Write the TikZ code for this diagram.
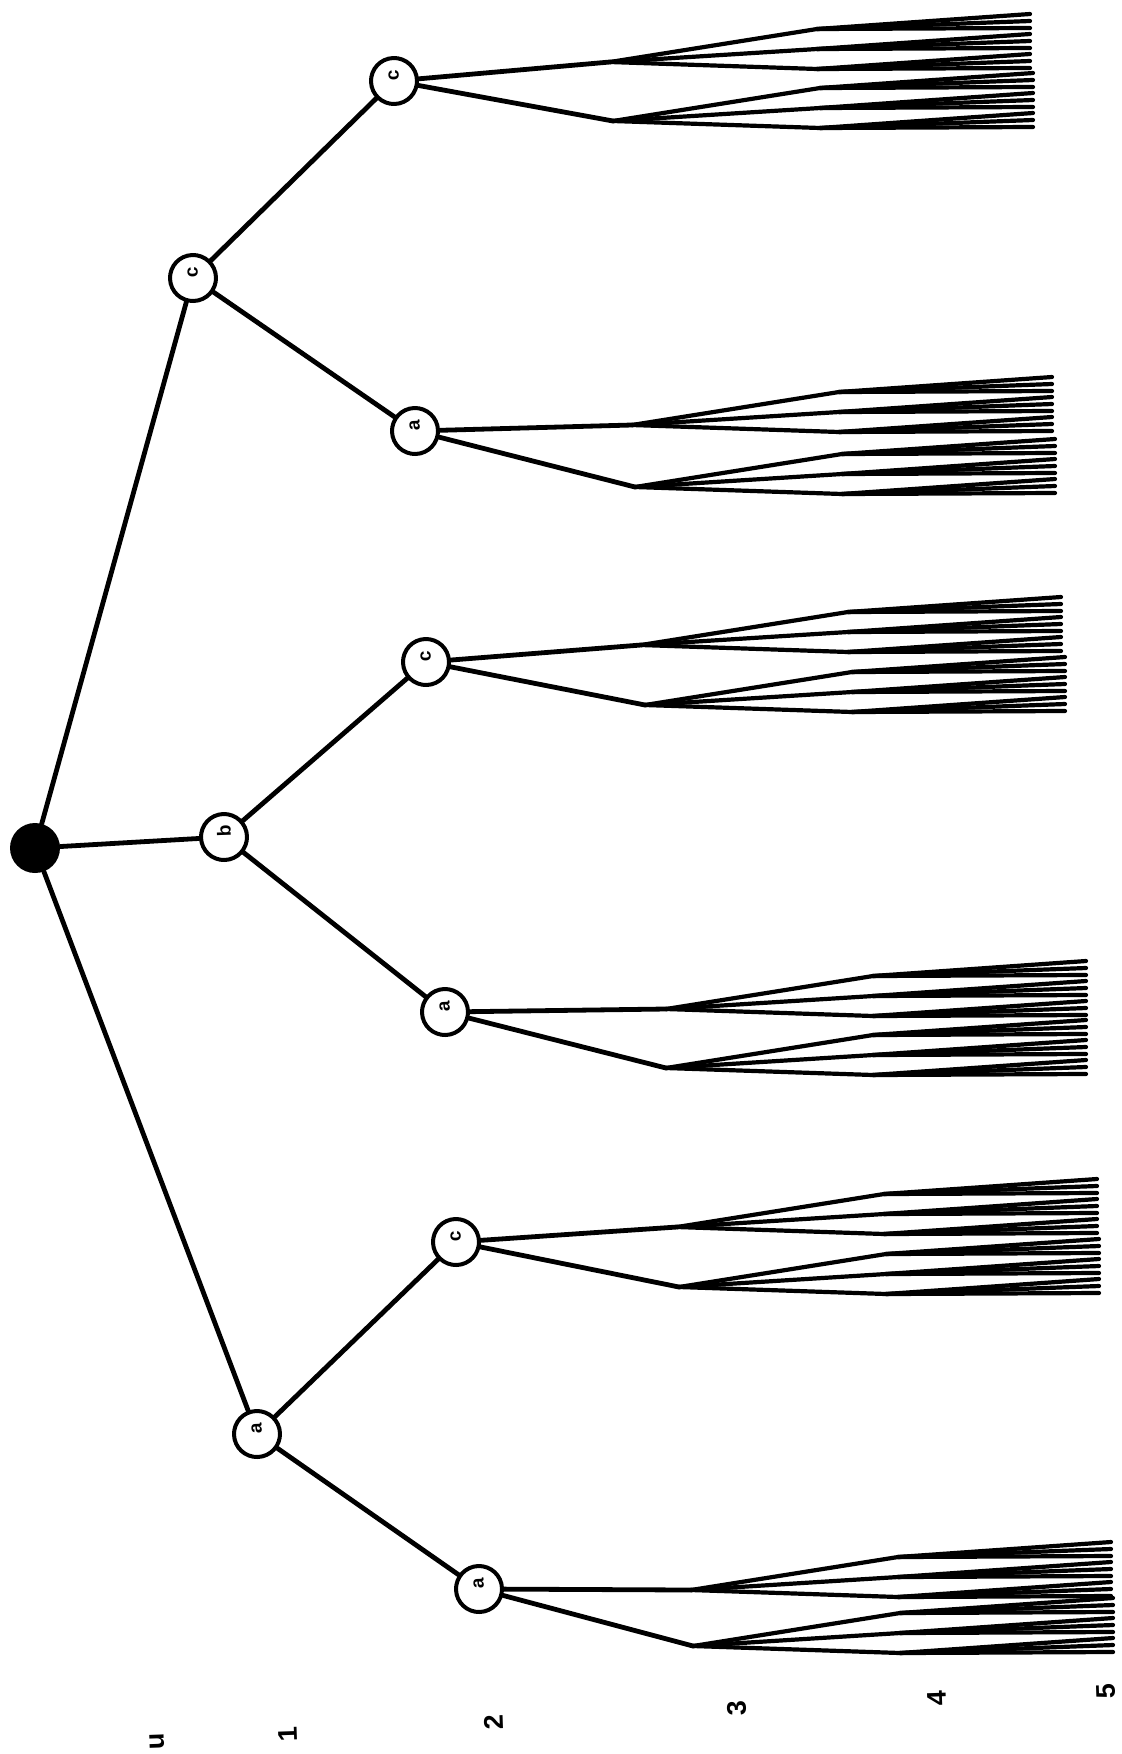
\documentclass[tikz,border=0pt]{standalone}
\usepackage{fontspec}
\setmainfont{Liberation Sans}
\newcommand{\lbl}[1]{\hspace*{12pt}#1}
\begin{document}
\begin{tikzpicture}[x=1pt,y=-1pt,
  tnode/.style={circle,draw,line width=4pt,minimum size=46pt,inner sep=0pt,fill=white,
    font=\bfseries\fontsize{19}{19}\selectfont,rotate=92},
  rootnode/.style={circle,fill=black,minimum size=50pt,inner sep=0pt},
  edge/.style={line width=4.8pt,line cap=round,line join=round},
  fan/.style={line width=4.2pt,line cap=round},
  lvl/.style={font=\bfseries\fontsize{27}{27}\selectfont,rotate=92,inner sep=0pt}
]
\useasboundingbox (0,0) rectangle (1122,1754);

% level 0 and 1
\node[rootnode] (r) at (35,848) {};
\node[tnode] (n1c) at (193,278) {\lbl{c}};
\node[tnode] (n1b) at (224,837) {\lbl{b}};
\node[tnode] (n1a) at (257,1434) {\lbl{a}};
% level 2
\node[tnode] (n2c1) at (394,81) {\lbl{c}};
\node[tnode] (n2a1) at (415,431) {\lbl{a}};
\node[tnode] (n2c2) at (426,662) {\lbl{c}};
\node[tnode] (n2a2) at (445,1012) {\lbl{a}};
\node[tnode] (n2c3) at (456,1242) {\lbl{c}};
\node[tnode] (n2a3) at (479,1589) {\lbl{a}};

\draw[edge] (r) -- (n1c);
\draw[edge] (r) -- (n1b);
\draw[edge] (r) -- (n1a);
\draw[edge] (n1c) -- (n2c1);
\draw[edge] (n1c) -- (n2a1);
\draw[edge] (n1b) -- (n2c2);
\draw[edge] (n1b) -- (n2a2);
\draw[edge] (n1a) -- (n2c3);
\draw[edge] (n1a) -- (n2a3);

% level 3 points with their fans
\foreach \pa/\nm/\px/\py in {
  n2c1/p1/610/62, n2c1/p2/613/121,
  n2a1/p3/632/425, n2a1/p4/635/487,
  n2c2/p5/641/645, n2c2/p6/645/705,
  n2a2/p7/666/1009, n2a2/p8/666/1068,
  n2c3/p9/677/1227, n2c3/p10/679/1287,
  n2a3/p11/691/1590, n2a3/p12/693/1646} {
  \coordinate (\nm) at (\px,\py);
  \draw[edge] (\pa) -- (\nm);
  \foreach \k/\dy in {1/-33,2/-13,3/7} {
    \coordinate (\nm-\k) at ({\px+207},{\py+(\dy)});
    \draw[fan] (\nm) -- (\nm-\k);
    \foreach \j/\e in {1/-7,2/0,3/7} {
      \coordinate (\nm-\k-\j) at ({\px+420},{\py+(\dy)-8+(\e)});
      \draw[fan] (\nm-\k) -- (\nm-\k-\j);
    }
  }
}

% level labels
\node[lvl] (l0) at (157,1741) {u};
\node[lvl] (l1) at (288,1734) {1};
\node[lvl] (l2) at (494,1722) {2};
\node[lvl] (l3) at (737,1708) {3};
\node[lvl] (l4) at (937,1698) {4};
\node[lvl] (l5) at (1106,1691) {5};
\end{tikzpicture}
\end{document}
